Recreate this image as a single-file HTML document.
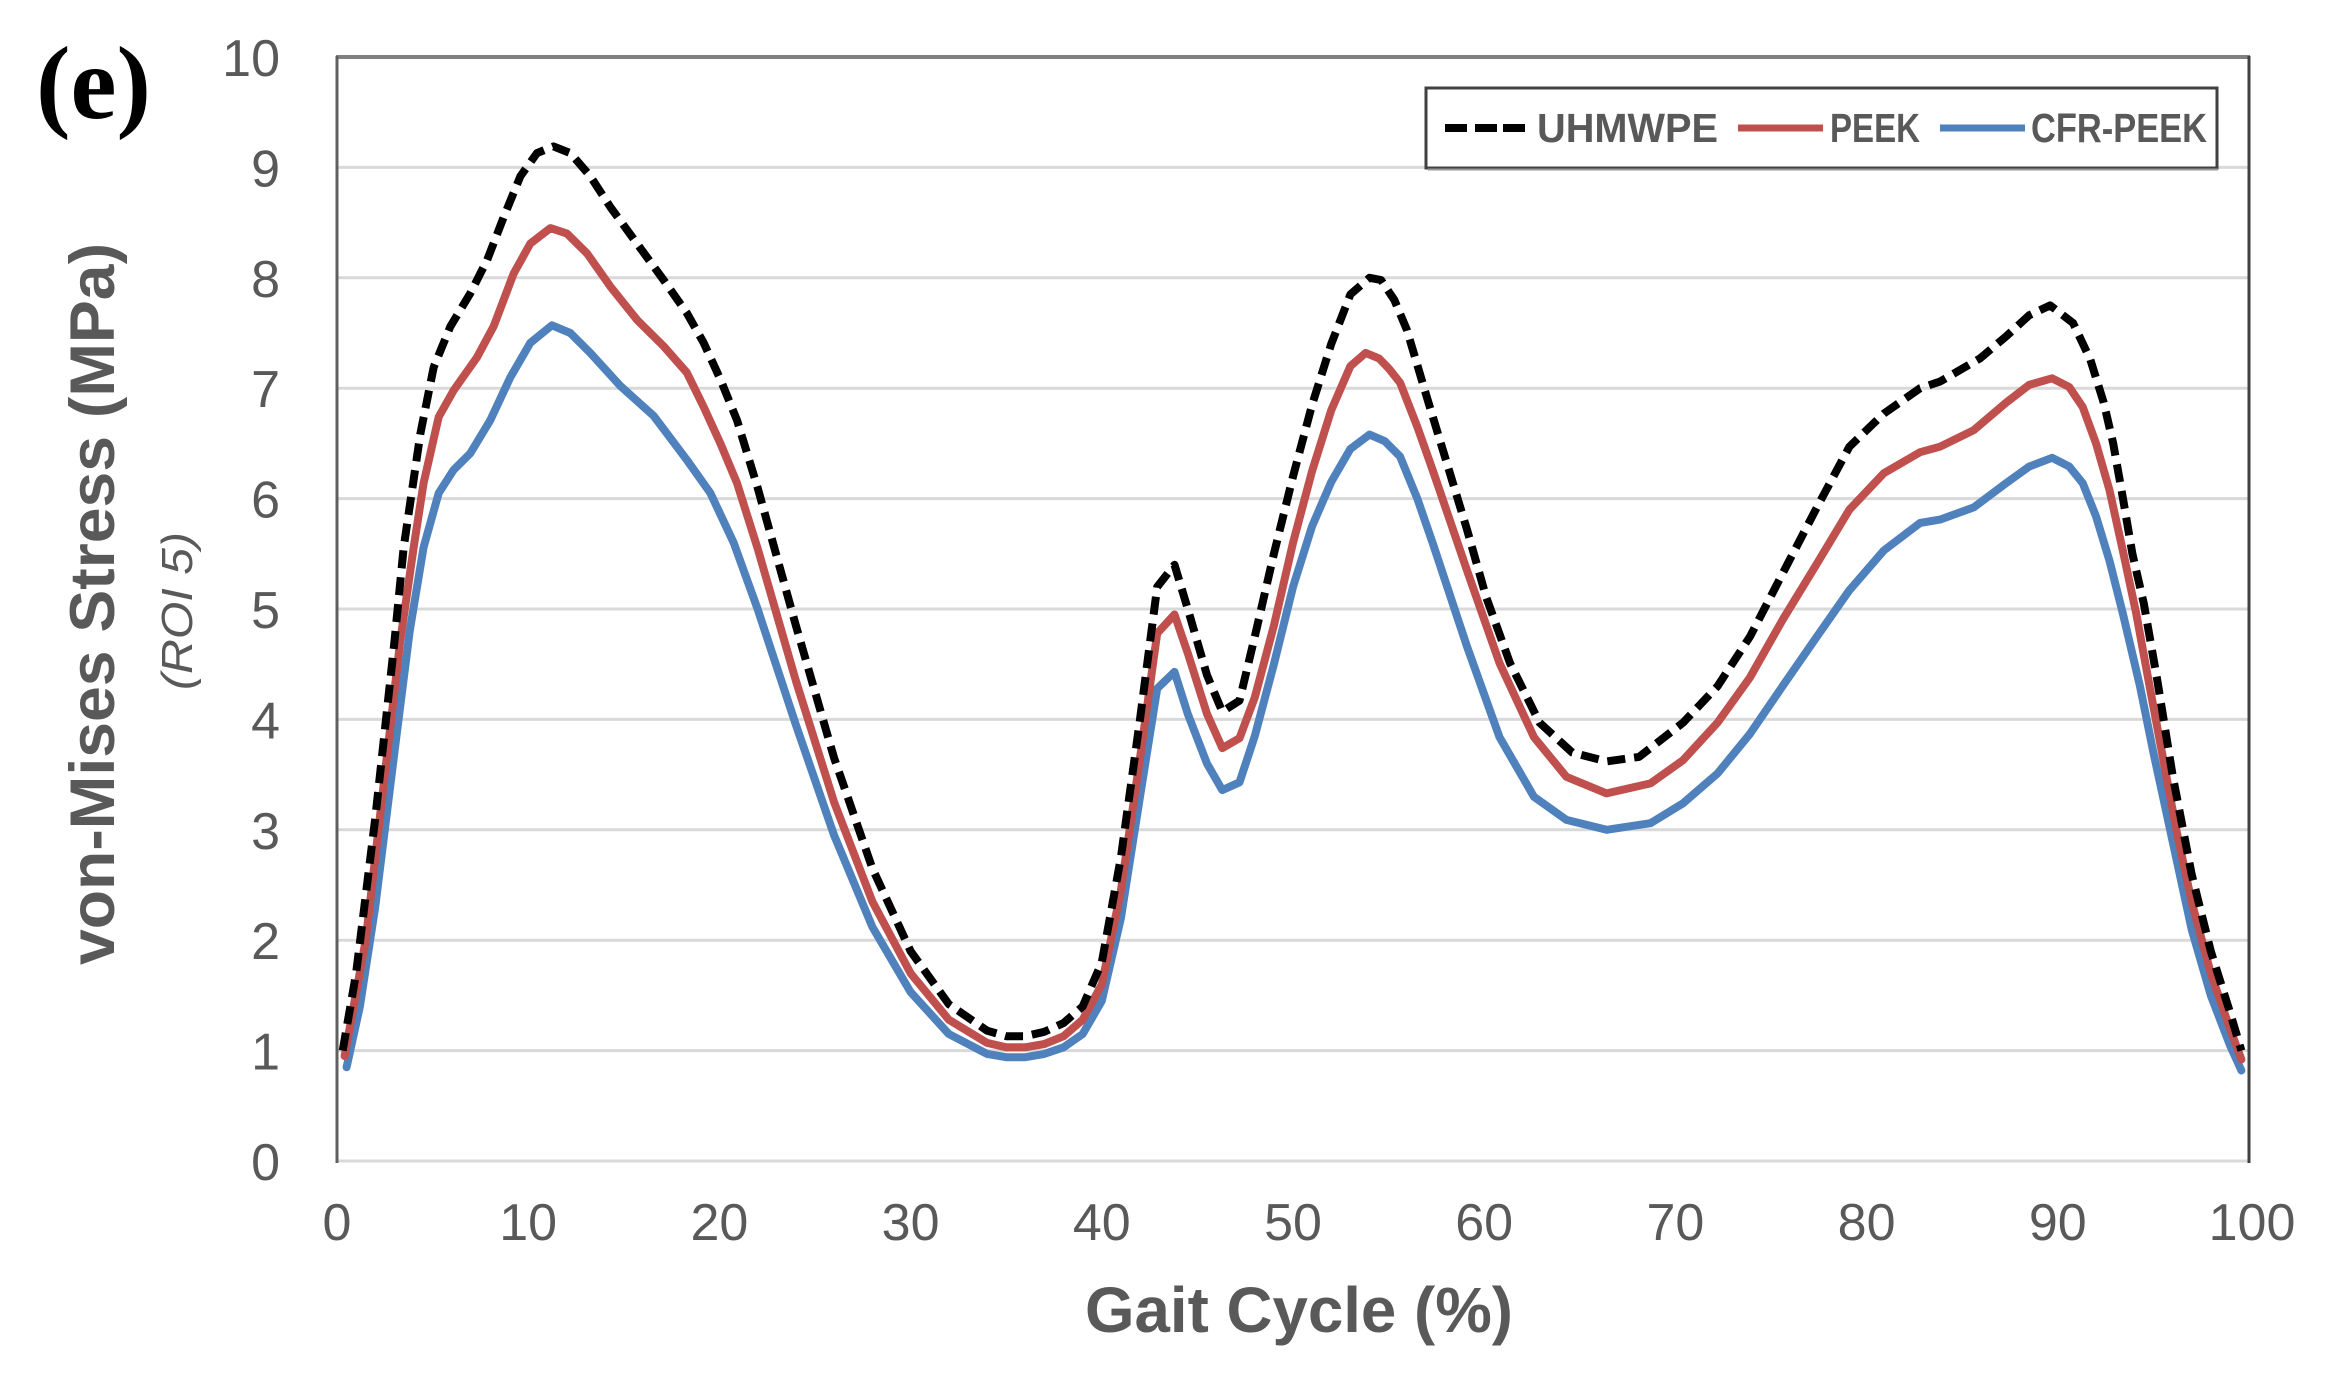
<!DOCTYPE html>
<html>
<head>
<meta charset="utf-8">
<style>
  html,body{margin:0;padding:0;background:#fff;}
  svg{display:block;}
  text{font-family:"Liberation Sans",Arial,sans-serif;}
</style>
</head>
<body>
<svg width="2342" height="1387" viewBox="0 0 2342 1387" xmlns="http://www.w3.org/2000/svg">
  <rect x="0" y="0" width="2342" height="1387" fill="#ffffff"/>

  <!-- gridlines -->
  <g stroke="#d9d9d9" stroke-width="3">
    <line x1="337" y1="1050.6" x2="2249" y2="1050.6"/>
    <line x1="337" y1="940.2" x2="2249" y2="940.2"/>
    <line x1="337" y1="829.8" x2="2249" y2="829.8"/>
    <line x1="337" y1="719.4" x2="2249" y2="719.4"/>
    <line x1="337" y1="609" x2="2249" y2="609"/>
    <line x1="337" y1="498.6" x2="2249" y2="498.6"/>
    <line x1="337" y1="388.2" x2="2249" y2="388.2"/>
    <line x1="337" y1="277.8" x2="2249" y2="277.8"/>
    <line x1="337" y1="167.4" x2="2249" y2="167.4"/>
    <line x1="337" y1="1161" x2="2249" y2="1161"/>
  </g>
  <!-- plot borders -->
  <line x1="336" y1="57" x2="2250" y2="57" stroke="#808080" stroke-width="4"/>
  <line x1="337" y1="56" x2="337" y2="1163" stroke="#606060" stroke-width="3"/>
  <line x1="2249" y1="56" x2="2249" y2="1163" stroke="#404040" stroke-width="3"/>

  <!-- y tick labels -->
  <g font-size="52" fill="#595959" text-anchor="end">
    <text x="280" y="1180">0</text>
    <text x="280" y="1069.6">1</text>
    <text x="280" y="959.2">2</text>
    <text x="280" y="848.8">3</text>
    <text x="280" y="738.4">4</text>
    <text x="280" y="628">5</text>
    <text x="280" y="517.6">6</text>
    <text x="280" y="407.2">7</text>
    <text x="280" y="296.8">8</text>
    <text x="280" y="186.4">9</text>
    <text x="280" y="76">10</text>
  </g>
  <!-- x tick labels -->
  <g font-size="52" fill="#595959" text-anchor="middle">
    <text x="337" y="1240">0</text>
    <text x="528.2" y="1240">10</text>
    <text x="719.4" y="1240">20</text>
    <text x="910.6" y="1240">30</text>
    <text x="1101.8" y="1240">40</text>
    <text x="1293" y="1240">50</text>
    <text x="1484.2" y="1240">60</text>
    <text x="1675.4" y="1240">70</text>
    <text x="1866.6" y="1240">80</text>
    <text x="2057.8" y="1240">90</text>
    <text x="2252" y="1240">100</text>
  </g>

  <!-- axis titles -->
  <text x="1085" y="1332" font-size="64" font-weight="bold" fill="#595959" textLength="428" lengthAdjust="spacingAndGlyphs">Gait Cycle (%)</text>
  <text transform="translate(114,965) rotate(-90)" x="0" y="0" font-size="63" font-weight="bold" fill="#595959" textLength="722" lengthAdjust="spacingAndGlyphs">von-Mises Stress (MPa)</text>
  <text transform="translate(192,690) rotate(-90)" x="0" y="0" font-size="44" font-style="italic" fill="#595959" textLength="158" lengthAdjust="spacingAndGlyphs">(ROI 5)</text>

  <!-- panel label -->
  <text x="36" y="118" font-family="'Liberation Serif',serif" font-size="104" font-weight="bold" fill="#000" textLength="115" lengthAdjust="spacingAndGlyphs" style="font-family:'Liberation Serif',serif">(e)</text>

  <!-- CFR-PEEK (blue) -->
  <polyline fill="none" stroke="#4F81BD" stroke-width="8" stroke-linejoin="round" stroke-linecap="round" points="
346.6,1067.2 359.9,1006.4 375.2,907.1 394.4,752.5 409.7,631.1 423.6,547.2 438.7,493.1 453.6,469.9 470.3,453.3 490.3,420.2 510.4,377.2 530.3,342.9 551.9,325.3 570.3,333 590.3,352.9 620.4,386 653.6,415.8 686.9,460 710.4,493.1 733.7,542.8 757.6,609 795.9,724.9 834.1,835.3 872.4,927 910.6,992.1 948.8,1034 987.1,1053.9 1006.2,1057.2 1025.3,1057.2 1044.4,1053.9 1063.6,1047.3 1082.7,1034 1101.8,1000.9 1120.9,918.1 1140,796.7 1157.2,688.5 1174.5,671.9 1187.8,713.9 1207,763.6 1222.3,790.1 1239.5,782.3 1254.8,736 1273.9,664.2 1293,586.9 1312.1,526.2 1331.2,482 1350.4,448.9 1369.5,434.6 1384.8,441.2 1400.1,456.6 1417.3,498.6 1432.6,542.8 1467,646.5 1499.5,737.1 1533.9,796.7 1566.4,819.9 1606.6,829.8 1650.5,823.2 1683,803.3 1717.5,773.5 1750,733.8 1782.5,686.3 1816.9,636.6 1849.4,590.2 1883.8,550.5 1920.1,522.9 1940,519.6 1973.7,507.4 2006.2,483.1 2029.1,466.6 2052.1,457.8 2069.3,466.6 2082.7,483.1 2096,516.3 2109.4,560.4 2122.8,613.4 2140,686.3 2153.4,752.5 2172.5,840.8 2191.6,929.2 2210.8,995.4 2229.9,1045.1 2241.4,1070.5"/>

  <!-- PEEK (red) -->
  <polyline fill="none" stroke="#C0504D" stroke-width="8" stroke-linejoin="round" stroke-linecap="round" points="
344.6,1056.1 365.7,940.2 384.8,774.6 400.1,642.1 413.7,547.2 423.6,483.1 438.7,416.9 453.6,390.4 477,357.3 493.6,326.4 513.7,273.4 530.3,243.6 550.4,228.1 567,233.6 587.1,253.5 610.4,286.6 637,319.8 663.6,346.2 686.9,372.7 703.7,407 720.4,443.4 737,483.1 757.6,548.3 795.9,680.8 834.1,802.2 872.4,901.6 910.6,973.3 948.8,1019.7 987.1,1042.9 1006.2,1047.3 1025.3,1047.3 1044.4,1044 1063.6,1036.2 1082.7,1019.7 1101.8,984.4 1120.9,890.5 1140,758 1157.2,633.3 1174.5,614.5 1187.8,653.2 1207,713.9 1222.3,748.1 1239.5,738.2 1254.8,697.3 1273.9,625.6 1293,542.8 1312.1,471 1331.2,410.3 1350.4,366.1 1365.7,352.9 1379,358.4 1388.6,368.3 1400.1,382.7 1417.3,426.8 1432.6,469.9 1467,570.4 1499.5,663.1 1533.9,737.1 1566.4,776.8 1606.6,793.4 1650.5,783.4 1683,760.2 1717.5,722.7 1750,677.4 1782.5,620 1816.9,563.7 1849.4,509.6 1883.8,473.2 1920.1,452.2 1940,446.7 1973.7,430.2 2006.2,402.6 2029.1,384.9 2052.1,378.3 2069.3,387.1 2082.7,407 2096,443.4 2109.4,489.8 2122.8,550.5 2136.2,613.4 2149.6,686.3 2163,758 2176.3,829.8 2191.6,901.6 2210.8,973.3 2229.9,1028.5 2241.4,1059.4"/>

  <!-- UHMWPE (black dashed) -->
  <polyline fill="none" stroke="#000000" stroke-width="8" stroke-linejoin="round" stroke-dasharray="18 9" points="
342.7,1050.6 356.1,973.3 375.2,818.8 394.4,642.1 403.7,547.2 420.4,433.5 433.7,367.2 450.4,326.4 470.3,293.3 487.1,260.1 503.7,217.1 520.4,176.2 537,153.1 553.6,146.4 570.3,153.1 590.3,176.2 610.4,207.1 637,243.6 663.6,280 686.9,313.1 703.7,342.9 720.4,379.4 737,420.2 757.6,487.6 795.9,625.6 834.1,758 872.4,868.4 910.6,951.2 948.8,1004.2 987.1,1030.7 1006.2,1036.2 1025.3,1036.2 1044.4,1031.8 1063.6,1023 1082.7,1006.4 1101.8,962.3 1120.9,857.4 1140,719.4 1157.2,586.9 1174.5,564.8 1187.8,609 1207,675.2 1222.3,711.7 1239.5,700.6 1254.8,636.6 1273.9,553.8 1293,476.5 1312.1,404.8 1331.2,344 1350.4,294.4 1369.5,277.8 1381,280 1394.3,299.9 1406.8,329.7 1426.8,397 1446.9,463.3 1467,529.5 1486.1,596.9 1510,663.1 1539.6,722.7 1572.2,752.5 1606.6,761.4 1639.1,756.9 1683,722.7 1717.5,686.3 1750,636.6 1782.5,573.7 1816.9,507.4 1849.4,446.7 1883.8,413.6 1920.1,388.2 1940,381.6 1980,358.4 2006.2,336.3 2029.1,315.3 2050.2,305.4 2073.1,323.1 2090.3,359.5 2103.7,402.6 2113.2,443.4 2122.8,497.5 2132.4,553.8 2143.8,603.5 2157.2,679.7 2172.5,774.6 2191.6,874 2210.8,951.2 2229.9,1012 2241.4,1050.6"/>

  <!-- legend -->
  <rect x="1426" y="88" width="791" height="80" fill="#ffffff" stroke="#404040" stroke-width="3"/>
  <line x1="1428" y1="169.5" x2="2218" y2="169.5" stroke="#999999" stroke-width="2"/>
  <g stroke="#000" stroke-width="8">
    <line x1="1445" y1="128" x2="1467" y2="128"/>
    <line x1="1475" y1="128" x2="1497" y2="128"/>
    <line x1="1503" y1="128" x2="1525" y2="128"/>
  </g>
  <line x1="1738" y1="128" x2="1823" y2="128" stroke="#C0504D" stroke-width="7"/>
  <line x1="1940" y1="128" x2="2025" y2="128" stroke="#4F81BD" stroke-width="7"/>
  <g font-size="41" font-weight="bold" fill="#595959">
    <text x="1537" y="142" textLength="181" lengthAdjust="spacingAndGlyphs">UHMWPE</text>
    <text x="1830" y="142" textLength="90" lengthAdjust="spacingAndGlyphs">PEEK</text>
    <text x="2031" y="142" textLength="176" lengthAdjust="spacingAndGlyphs">CFR-PEEK</text>
  </g>
</svg>
</body>
</html>
